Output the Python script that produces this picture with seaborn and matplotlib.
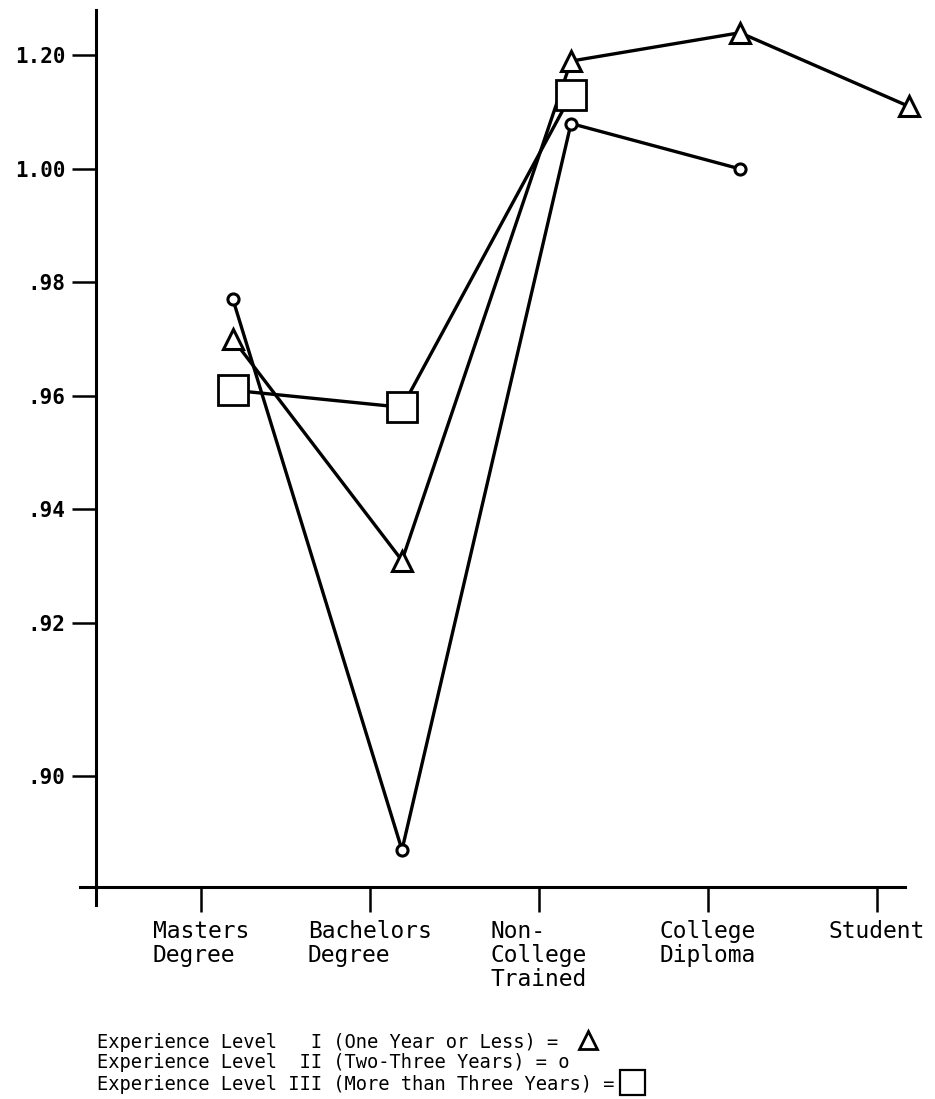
import numpy as np
import pandas as pd
import matplotlib
matplotlib.use('Agg')
import matplotlib.pyplot as plt
import seaborn as sns
from matplotlib.lines import Line2D

# categories on the x axis
categories = ['Masters\nDegree', 'Bachelors\nDegree', 'Non-\nCollege\nTrained',
              'College\nDiploma', 'Student']

# values (nan = no point drawn)
level_1 = [0.970, 0.931, 1.019, 1.024, 1.011]
level_2 = [0.977, 0.880, 1.008, 1.000, np.nan]
level_3 = [0.961, 0.958, 1.013, np.nan, np.nan]

# y axis ticks as printed (the top one reads 1.20 on the original)
ytick_pos = [0.893, 0.92, 0.94, 0.96, 0.98, 1.00, 1.02]
ytick_labels = ['.90', '.92', '.94', '.96', '.98', '1.00', '1.20']

legend_lines = ['Experience Level   I (One Year or Less) = ',
                'Experience Level  II (Two-Three Years) = o',
                'Experience Level III (More than Three Years) = ']

sns.set_style('white')
plt.rcParams['font.family'] = ['DejaVu Sans Mono', 'DejaVu Sans']
plt.rcParams['text.color'] = 'black'
plt.rcParams['xtick.color'] = 'black'
plt.rcParams['ytick.color'] = 'black'

fig = plt.figure(figsize=(9.35, 10.99), dpi=100)
ax = fig.add_axes([80/935, 1 - 905/1099, 825/935, 895/1099])

x = np.arange(len(categories))
series = [
    (level_1, dict(marker='^', markersize=15, mew=2.2)),
    (level_2, dict(marker='o', markersize=8, mew=2.2)),
    (level_3, dict(marker='s', markersize=22, mew=2.0)),
]
for vals, mk in series:
    df = pd.DataFrame({'x': x, 'y': vals}).dropna()
    sns.lineplot(data=df, x='x', y='y', ax=ax, color='black', lw=2.4,
                 mfc='white', mec='black', clip_on=False, zorder=3, **mk)

ax.set_xlim(-0.905, 3.976)
ax.set_ylim(0.8703, 1.028)

# spines crossing like the hand-drawn axes
ax.spines['left'].set_position(('data', -0.81))
ax.spines['bottom'].set_position(('data', 0.8735))
ax.spines['right'].set_visible(False)
ax.spines['top'].set_visible(False)
for s in ['left', 'bottom']:
    ax.spines[s].set_linewidth(2.2)
    ax.spines[s].set_color('black')

ax.set_xticks(x - 0.19)
ax.set_xticklabels(categories, fontsize=16.5, linespacing=1.05, multialignment='left')
ax.set_yticks(ytick_pos)
ax.set_yticklabels(ytick_labels, fontsize=15, fontweight='bold')
ax.tick_params(axis='x', bottom=True, direction='out', length=18, width=1.8, pad=6)
ax.tick_params(axis='y', left=True, direction='out', length=17, width=1.8, pad=5)
ax.set_xlabel('')
ax.set_ylabel('')

# key below the chart
ys = [1042, 1063, 1084]
for line, yp in zip(legend_lines, ys):
    fig.text(97/935, 1 - yp/1099, line, fontsize=13.5, va='center', ha='left')
fig.add_artist(Line2D([588/935], [1 - 1040/1099], marker='^', markersize=13,
                      mfc='white', mec='black', mew=2, transform=fig.transFigure))
fig.add_artist(Line2D([632/935], [1 - 1082/1099], marker='s', markersize=18,
                      mfc='white', mec='black', mew=1.6, transform=fig.transFigure))

fig.savefig('out.png', dpi=100)
